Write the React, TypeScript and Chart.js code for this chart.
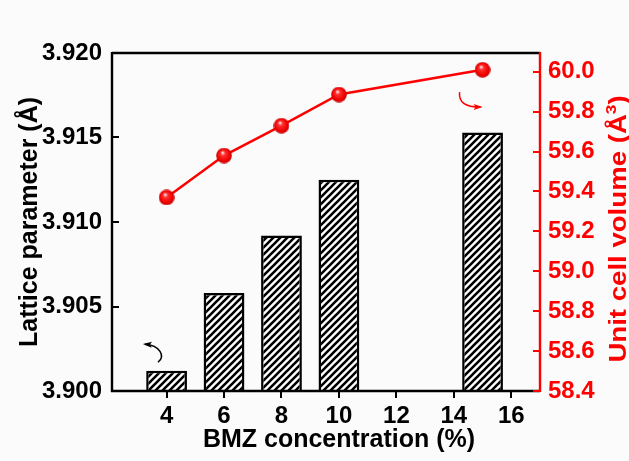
import { useEffect, useRef } from 'react';
import { Chart, registerables } from 'chart.js';

Chart.register(...registerables);

// ---- data ----
const concentrations = [4, 6, 8, 10, 15];
const latticeParameter = [3.9012, 3.9058, 3.9092, 3.9125, 3.9153];
const cellVolume = [59.37, 59.58, 59.73, 59.886, 60.01];

const xTicks = [4, 6, 8, 10, 12, 14, 16];
const leftTicks = [3.9, 3.905, 3.91, 3.915, 3.92];
const rightTicks = [58.4, 58.6, 58.8, 59.0, 59.2, 59.4, 59.6, 59.8, 60.0];
const xRange = [2.1, 17.0];
const leftRange = [3.9, 3.92];
const rightRange = [58.4, 60.094];

const xTitle = 'BMZ concentration (%)';
const leftTitle = 'Lattice parameter (Å)';
const rightTitleMain = 'Unit cell volume (Å';
const rightTitleSup = '3';
const rightTitleEnd = ')';

// curved arrows in data coordinates: [x, y] for start, c1, c2, end
const leftArrow = [[3.7, 3.9017], [3.976, 3.90206], [3.767, 3.90271], [3.245, 3.90277]];
const rightArrow = [[14.2, 59.898], [14.167, 59.848], [14.376, 59.823], [14.933, 59.823]];

const FONT = '"Liberation Sans", Arial, Helvetica, sans-serif';
const RED = '#ff0000';

function makeHatch(): CanvasPattern | string {
  const s = 7;
  const c = document.createElement('canvas');
  c.width = s;
  c.height = s;
  const g = c.getContext('2d');
  if (!g) return '#fff';
  g.fillStyle = '#ffffff';
  g.fillRect(0, 0, s, s);
  g.strokeStyle = '#000';
  g.lineWidth = 2.6;
  g.beginPath();
  g.moveTo(-1, s + 1);
  g.lineTo(s + 1, -1);
  g.moveTo(-2, 2);
  g.lineTo(2, -2);
  g.moveTo(s - 2, s + 2);
  g.lineTo(s + 2, s - 2);
  g.stroke();
  return g.createPattern(c, 'repeat') || '#fff';
}

function makeBall(): HTMLCanvasElement {
  const d = 16;
  const c = document.createElement('canvas');
  c.width = d;
  c.height = d;
  const g = c.getContext('2d');
  if (!g) return c;
  const grad = g.createRadialGradient(6.5, 5, 0.5, 8, 8, 8);
  grad.addColorStop(0, '#ffe0e0');
  grad.addColorStop(0.25, '#ff3030');
  grad.addColorStop(0.75, '#f00000');
  grad.addColorStop(1, '#b80000');
  g.fillStyle = grad;
  g.beginPath();
  g.arc(8, 8, 7.8, 0, Math.PI * 2);
  g.fill();
  return c;
}

const decorPlugin = {
  id: 'decor',
  beforeDraw(chart: any) {
    const { ctx, width, height } = chart;
    ctx.save();
    ctx.fillStyle = '#fbfbfb';
    ctx.fillRect(0, 0, width, height);
    ctx.restore();
  },
  afterDraw(chart: any) {
    const { ctx, chartArea } = chart;
    const { left, right, top, bottom } = chartArea;
    const sx = chart.scales.x;
    const sy = chart.scales.y;
    const sy1 = chart.scales.y1;
    ctx.save();
    ctx.lineCap = 'butt';
    // frame
    ctx.lineWidth = 2.4;
    ctx.strokeStyle = '#000';
    ctx.beginPath();
    ctx.moveTo(left, top);
    ctx.lineTo(right, top);
    ctx.moveTo(left, top - 1);
    ctx.lineTo(left, bottom + 1);
    ctx.moveTo(left - 1, bottom);
    ctx.lineTo(right, bottom);
    ctx.stroke();
    ctx.strokeStyle = RED;
    ctx.beginPath();
    ctx.moveTo(right, top - 1);
    ctx.lineTo(right, bottom + 1);
    ctx.stroke();
    // ticks
    ctx.lineWidth = 2;
    ctx.strokeStyle = '#000';
    ctx.beginPath();
    sy.ticks.forEach((t: any) => {
      const p = Math.round(sy.getPixelForValue(t.value));
      ctx.moveTo(left, p);
      ctx.lineTo(left + 7, p);
    });
    sx.ticks.forEach((t: any) => {
      const p = Math.round(sx.getPixelForValue(t.value));
      ctx.moveTo(p, bottom);
      ctx.lineTo(p, bottom + 7);
    });
    ctx.stroke();
    ctx.strokeStyle = RED;
    ctx.beginPath();
    sy1.ticks.forEach((t: any) => {
      const p = Math.round(sy1.getPixelForValue(t.value));
      ctx.moveTo(right - 7, p);
      ctx.lineTo(right, p);
    });
    ctx.stroke();

    // arrows
    const drawArrow = (pts: number[][], yScale: any, color: string) => {
      const P = pts.map(([x, y]) => [sx.getPixelForValue(x), yScale.getPixelForValue(y)]);
      ctx.strokeStyle = color;
      ctx.fillStyle = color;
      ctx.lineWidth = 1.5;
      ctx.beginPath();
      ctx.moveTo(P[0][0], P[0][1]);
      ctx.bezierCurveTo(P[1][0], P[1][1], P[2][0], P[2][1], P[3][0], P[3][1]);
      ctx.stroke();
      const ang = Math.atan2(P[3][1] - P[2][1], P[3][0] - P[2][0]);
      const L = 7;
      const W = 3;
      ctx.beginPath();
      ctx.moveTo(P[3][0] + Math.cos(ang) * 2, P[3][1] + Math.sin(ang) * 2);
      ctx.lineTo(P[3][0] - Math.cos(ang) * L + Math.sin(ang) * W, P[3][1] - Math.sin(ang) * L - Math.cos(ang) * W);
      ctx.lineTo(P[3][0] - Math.cos(ang) * (L - 2), P[3][1] - Math.sin(ang) * (L - 2));
      ctx.lineTo(P[3][0] - Math.cos(ang) * L - Math.sin(ang) * W, P[3][1] - Math.sin(ang) * L + Math.cos(ang) * W);
      ctx.closePath();
      ctx.fill();
    };
    drawArrow(leftArrow, sy, '#000');
    drawArrow(rightArrow, sy1, RED);

    // titles
    ctx.fillStyle = '#000';
    ctx.font = `bold 25px ${FONT}`;
    ctx.textAlign = 'center';
    ctx.textBaseline = 'alphabetic';
    ctx.fillText(xTitle, 339, 447);

    ctx.save();
    ctx.translate(37, (top + bottom) / 2);
    ctx.rotate(-Math.PI / 2);
    ctx.fillText(leftTitle, 0, 0);
    ctx.restore();

    // right title with superscript
    ctx.save();
    ctx.fillStyle = RED;
    ctx.translate(626, 229);
    ctx.rotate(-Math.PI / 2);
    ctx.scale(1.15, 1);
    ctx.textAlign = 'left';
    const mainFont = `bold 24px ${FONT}`;
    const supFont = `bold 15px ${FONT}`;
    ctx.font = mainFont;
    const w1 = ctx.measureText(rightTitleMain).width;
    const w3 = ctx.measureText(rightTitleEnd).width;
    ctx.font = supFont;
    const w2 = ctx.measureText(rightTitleSup).width;
    let x0 = -(w1 + w2 + w3) / 2;
    ctx.font = mainFont;
    ctx.fillText(rightTitleMain, x0, 0);
    x0 += w1;
    ctx.font = supFont;
    ctx.fillText(rightTitleSup, x0, -10);
    x0 += w2;
    ctx.font = mainFont;
    ctx.fillText(rightTitleEnd, x0, 0);
    ctx.restore();

    ctx.restore();
  },
};

export default function App() {
  const ref = useRef<HTMLCanvasElement | null>(null);

  useEffect(() => {
    const canvas = ref.current;
    if (!canvas) return;
    const hatch = makeHatch();
    const ball = makeBall();
    const tickFont = { family: FONT, size: 24, weight: 'bold' as const };

    const chart = new Chart(canvas, {
      type: 'bar',
      data: {
        datasets: [
          {
            type: 'line' as const,
            label: 'Unit cell volume',
            data: concentrations.map((x, i) => ({ x, y: cellVolume[i] })),
            xAxisID: 'x',
            yAxisID: 'y1',
            borderColor: RED,
            borderWidth: 2.5,
            pointStyle: ball as any,
            pointRadius: 8,
            order: 0,
            clip: false as any,
          },
          {
            type: 'bar' as const,
            label: 'Lattice parameter',
            data: concentrations.map((x, i) => ({ x, y: latticeParameter[i] })),
            xAxisID: 'x',
            yAxisID: 'y',
            backgroundColor: hatch as any,
            borderColor: '#000',
            borderWidth: 2.5,
            borderSkipped: 'start' as const,
            barPercentage: 0.71,
            categoryPercentage: 1,
            order: 1,
          },
        ] as any,
      },
      options: {
        responsive: false,
        animation: false,
        devicePixelRatio: 1,
        layout: { padding: { top: 53, left: 0, right: 0, bottom: 0 } },
        plugins: { legend: { display: false }, tooltip: { enabled: false } },
        scales: {
          x: {
            type: 'linear',
            position: 'bottom',
            offset: false,
            min: xRange[0],
            max: xRange[1],
            afterBuildTicks: (s: any) => {
              s.ticks = xTicks.map((v) => ({ value: v }));
            },
            afterFit: (s: any) => {
              s.height = 70;
            },
            grid: { display: false, drawTicks: false, offset: false },
            border: { display: false },
            ticks: {
              font: tickFont,
              color: '#000',
              padding: 11,
              maxRotation: 0,
              autoSkip: false,
              callback: (v: any) => String(v),
            },
          },
          y: {
            type: 'linear',
            position: 'left',
            min: leftRange[0],
            max: leftRange[1],
            afterBuildTicks: (s: any) => {
              s.ticks = leftTicks.map((v) => ({ value: v }));
            },
            afterFit: (s: any) => {
              s.width = 112;
            },
            grid: { display: false, drawTicks: false },
            border: { display: false },
            ticks: {
              font: tickFont,
              color: '#000',
              padding: 10,
              autoSkip: false,
              callback: (v: any) => Number(v).toFixed(3),
            },
          },
          y1: {
            type: 'linear',
            position: 'right',
            min: rightRange[0],
            max: rightRange[1],
            afterBuildTicks: (s: any) => {
              s.ticks = rightTicks.map((v) => ({ value: v }));
            },
            afterFit: (s: any) => {
              s.width = 89;
            },
            grid: { display: false, drawTicks: false },
            border: { display: false },
            ticks: {
              font: tickFont,
              color: RED,
              padding: 8,
              autoSkip: false,
              callback: (v: any) => Number(v).toFixed(1),
            },
          },
        },
      } as any,
      plugins: [decorPlugin],
    });

    return () => chart.destroy();
  }, []);

  return (
    <div style={{ position: 'absolute', left: 0, top: 0, width: 629, height: 461 }}>
      <canvas ref={ref} width={629} height={461} style={{ display: 'block' }} />
    </div>
  );
}
